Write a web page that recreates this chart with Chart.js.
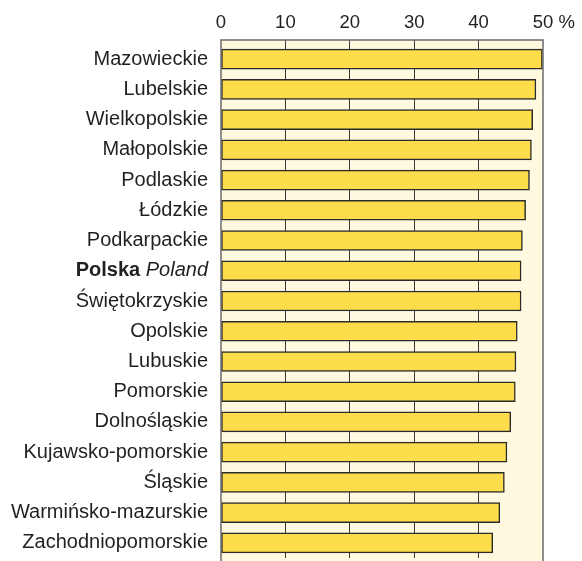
<!DOCTYPE html>
<html>
<head>
<meta charset="utf-8">
<script src="https://cdn.jsdelivr.net/npm/chart.js@4"></script>
<style>
  html, body { margin: 0; padding: 0; background: #fff; }
  #wrap { width: 582px; height: 561px; }
</style>
</head>
<body>
<div id="wrap"><canvas id="chart"></canvas></div>
<script>
// data
const regiony = ["Mazowieckie", "Lubelskie", "Wielkopolskie", "Małopolskie", "Podlaskie", "Łódzkie",
    "Podkarpackie", "Polska Poland", "Świętokrzyskie", "Opolskie", "Lubuskie", "Pomorskie",
    "Dolnośląskie", "Kujawsko-pomorskie", "Śląskie", "Warmińsko-mazurskie", "Zachodniopomorskie"];
const wartosci = [49.9, 48.9, 48.4, 48.2, 47.9, 47.3, 46.8, 46.6, 46.6, 46.0, 45.8, 45.7, 45.0, 44.4, 44.0, 43.3, 42.2];
const ticksX = [0, 10, 20, 30, 40, 50];

const FONT = "'Liberation Sans', Arial, sans-serif";
const FSIZE = 20;     // region labels
const FTICK = 18.5;   // top axis numbers
const POLSKA = "Polska Poland";

// cream background + frame around the plot
const tloPlugin = {
    id: "tlo",
    beforeDraw(chart) {
        const { ctx, chartArea: a } = chart;
        ctx.save();
        ctx.fillStyle = "#fffadf";
        ctx.fillRect(a.left, a.top - 4, a.right - a.left, chart.height - a.top + 4);
        ctx.restore();
    },
    afterDatasetsDraw(chart) {
        const { ctx, chartArea: a } = chart;
        ctx.save();
        ctx.strokeStyle = "#6b6b6b";
        ctx.lineWidth = 1.5;
        ctx.beginPath();
        ctx.moveTo(a.left, chart.height);
        ctx.lineTo(a.left, a.top - 4);
        ctx.lineTo(a.right, a.top - 4);
        ctx.lineTo(a.right, chart.height);
        ctx.stroke();
        ctx.restore();
    },
    afterDraw(chart) {
        const { ctx } = chart;
        const x = chart.scales.x, y = chart.scales.y;
        ctx.save();
        ctx.fillStyle = "#231f20";
        ctx.textBaseline = "middle";
        // "Polska" bold, "Poland" italic
        const idx = regiony.indexOf(POLSKA);
        const py = y.getPixelForValue(idx);
        const right = y.right - 13;
        ctx.font = "italic " + FSIZE + "px " + FONT;
        const wIt = ctx.measureText("Poland").width;
        ctx.textAlign = "right";
        ctx.fillText("Poland", right, py);
        ctx.font = "bold " + FSIZE + "px " + FONT;
        ctx.fillText("Polska ", right - wIt, py);
        // % after the 50 tick
        ctx.font = FTICK + "px " + FONT;
        const w50 = ctx.measureText("50").width;
        const wSp = ctx.measureText(" ").width;
        ctx.textAlign = "left";
        ctx.textBaseline = "alphabetic";
        ctx.fillText("%", x.getPixelForValue(50) + w50 / 2 + wSp, 27.5);
        ctx.restore();
    }
};

new Chart(document.getElementById("chart"), {
    type: "bar",
    data: {
        labels: regiony,
        datasets: [{
            data: wartosci,
            backgroundColor: "#fddd4c",
            borderColor: "#2b2b2b",
            borderWidth: 1.5,
            borderSkipped: false,
            barThickness: 20
        }]
    },
    options: {
        indexAxis: "y",
        responsive: true,
        maintainAspectRatio: false,
        animation: false,
        layout: { padding: { left: 0, right: 39, top: 0, bottom: 3 } },
        plugins: { legend: { display: false }, tooltip: { enabled: false } },
        scales: {
            x: {
                position: "top",
                min: 0,
                max: 50,
                afterBuildTicks: s => { s.ticks = ticksX.map(v => ({ value: v })); },
                afterFit: s => { s.height = 44; s.paddingLeft = 0; s.paddingRight = 0; },
                border: { display: false },
                grid: {
                    drawTicks: true,
                    tickLength: 4,
                    lineWidth: 1,
                    color: c => (c.tick && (c.tick.value === 0 || c.tick.value === 50)) ? "rgba(0,0,0,0)" : "#3a3a3a"
                },
                ticks: {
                    padding: 6,
                    color: "#231f20",
                    font: { family: FONT, size: FTICK },
                    callback: v => String(v)
                }
            },
            y: {
                afterFit: s => { s.width = 221; s.paddingTop = 0; s.paddingBottom = 0; },
                border: { display: false },
                grid: { display: false, drawTicks: false },
                ticks: {
                    padding: 13,
                    color: "#231f20",
                    font: { family: FONT, size: FSIZE },
                    callback: function (v) {
                        const l = this.getLabelForValue(v);
                        return l === POLSKA ? "" : l;
                    }
                }
            }
        }
    },
    plugins: [tloPlugin]
});
</script>
</body>
</html>
